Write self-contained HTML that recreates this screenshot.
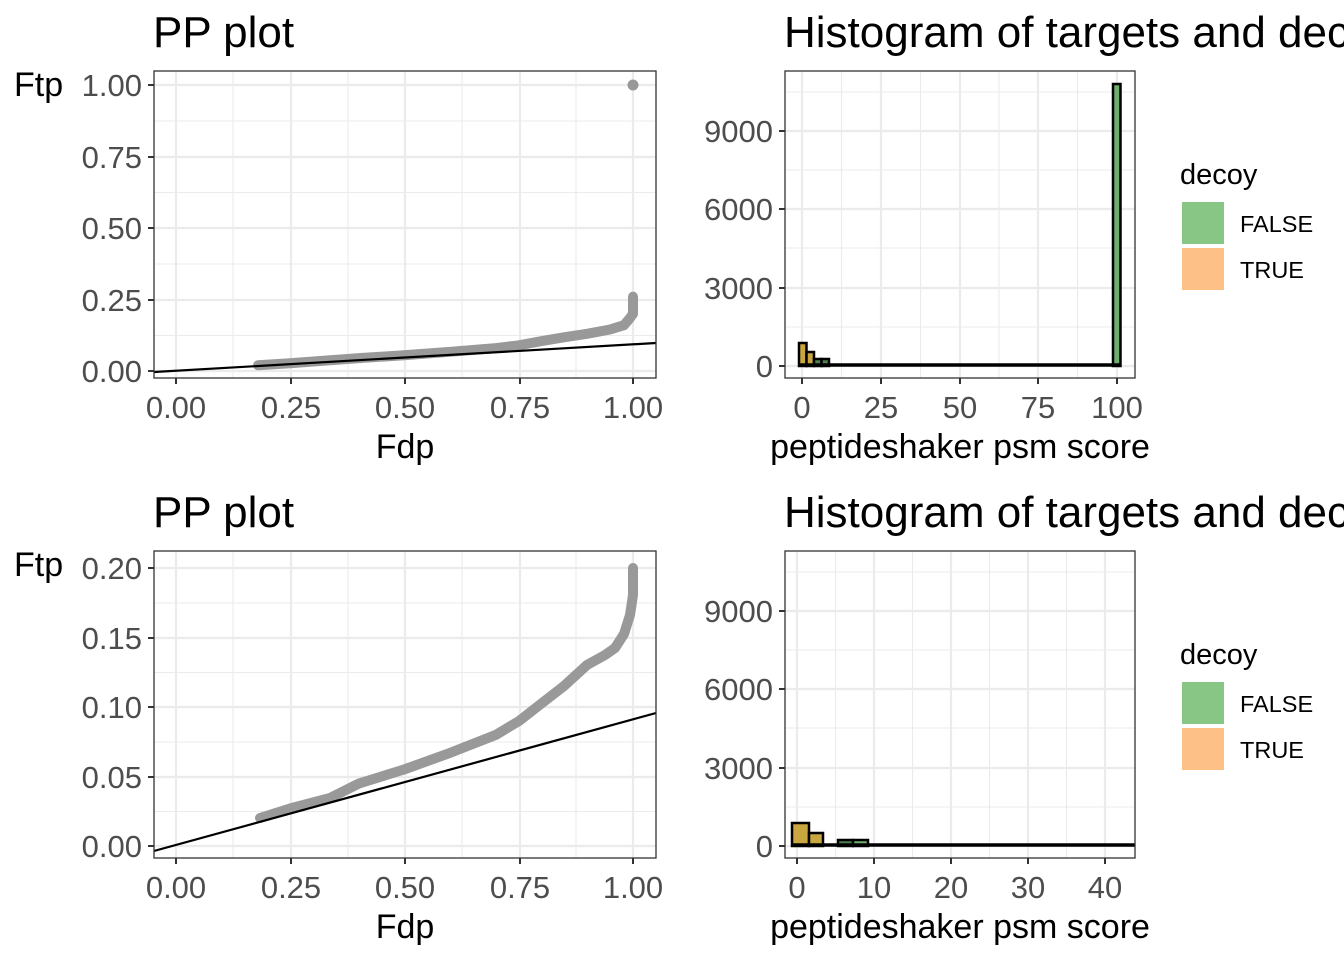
<!DOCTYPE html>
<html><head><meta charset="utf-8"><style>
html,body{margin:0;padding:0;background:#fff;}
svg{display:block;font-family:"Liberation Sans",Arial,sans-serif;}
.tk{fill:#4d4d4d;font-size:31px;}
.at{fill:#000;font-size:34px;}
.tt{fill:#000;font-size:44px;}
.mj{stroke:#ebebeb;stroke-width:2.2;}
.mn{stroke:#ebebeb;stroke-width:1.1;}
.tick{stroke:#333;stroke-width:2;}
</style></head><body>
<svg width="1344" height="960" viewBox="0 0 1344 960">
<defs>
<clipPath id="c1"><rect x="154" y="71" width="502" height="307"/></clipPath>
<clipPath id="c2"><rect x="154" y="551" width="502" height="307"/></clipPath>
<clipPath id="c4"><rect x="785" y="551" width="350" height="307"/></clipPath>
</defs>

<!-- ===== Top-left PP ===== -->
<text class="tt" x="153" y="47">PP plot</text>
<g>
<line class="mn" x1="154" y1="335.5" x2="656" y2="335.5"/><line class="mn" x1="154" y1="264" x2="656" y2="264"/><line class="mn" x1="154" y1="192.5" x2="656" y2="192.5"/><line class="mn" x1="154" y1="121" x2="656" y2="121"/>
<line class="mn" x1="233" y1="71" x2="233" y2="378"/><line class="mn" x1="348" y1="71" x2="348" y2="378"/><line class="mn" x1="462" y1="71" x2="462" y2="378"/><line class="mn" x1="576" y1="71" x2="576" y2="378"/>
<line class="mj" x1="154" y1="371" x2="656" y2="371"/><line class="mj" x1="154" y1="300" x2="656" y2="300"/><line class="mj" x1="154" y1="228" x2="656" y2="228"/><line class="mj" x1="154" y1="157" x2="656" y2="157"/><line class="mj" x1="154" y1="85" x2="656" y2="85"/>
<line class="mj" x1="176" y1="71" x2="176" y2="378"/><line class="mj" x1="291" y1="71" x2="291" y2="378"/><line class="mj" x1="405" y1="71" x2="405" y2="378"/><line class="mj" x1="520" y1="71" x2="520" y2="378"/><line class="mj" x1="633" y1="71" x2="633" y2="378"/>
<g clip-path="url(#c1)">
<polyline fill="none" stroke="#999" stroke-width="10" stroke-linecap="round" stroke-linejoin="round" points="258,365.3 290,363.3 359,358.1 404,355.3 450,351.8 496,348.1 519,345.3 542,341 564,337.3 587,333.8 610,329.5 624,325.2 630,318 633,313.8 633,296.6"/>
<circle cx="633" cy="85" r="5.5" fill="#999"/>
<line x1="154" y1="372" x2="656" y2="343" stroke="#000" stroke-width="2.2"/>
</g>
<rect x="154" y="71" width="502" height="307" fill="none" stroke="#333" stroke-width="1.3"/>
<line class="tick" x1="148" y1="371" x2="154" y2="371"/><line class="tick" x1="148" y1="300" x2="154" y2="300"/><line class="tick" x1="148" y1="228" x2="154" y2="228"/><line class="tick" x1="148" y1="157" x2="154" y2="157"/><line class="tick" x1="148" y1="85" x2="154" y2="85"/>
<line class="tick" x1="176" y1="378" x2="176" y2="384"/><line class="tick" x1="291" y1="378" x2="291" y2="384"/><line class="tick" x1="405" y1="378" x2="405" y2="384"/><line class="tick" x1="520" y1="378" x2="520" y2="384"/><line class="tick" x1="633" y1="378" x2="633" y2="384"/>
<g class="tk" text-anchor="end"><text x="142" y="382">0.00</text><text x="142" y="311">0.25</text><text x="142" y="239">0.50</text><text x="142" y="168">0.75</text><text x="142" y="96">1.00</text></g>
<g class="tk" text-anchor="middle"><text x="176" y="418">0.00</text><text x="291" y="418">0.25</text><text x="405" y="418">0.50</text><text x="520" y="418">0.75</text><text x="633" y="418">1.00</text></g>
<text class="at" x="405" y="458" text-anchor="middle">Fdp</text>
<text class="at" x="14" y="96">Ftp</text>
</g>

<!-- ===== Top-right histogram ===== -->
<text class="tt" x="784" y="47">Histogram of targets and decoys</text>
<g>
<line class="mn" x1="785" y1="327" x2="1135" y2="327"/><line class="mn" x1="785" y1="248" x2="1135" y2="248"/><line class="mn" x1="785" y1="170" x2="1135" y2="170"/><line class="mn" x1="785" y1="92" x2="1135" y2="92"/>
<line class="mn" x1="841.5" y1="71" x2="841.5" y2="378"/><line class="mn" x1="920.5" y1="71" x2="920.5" y2="378"/><line class="mn" x1="999" y1="71" x2="999" y2="378"/><line class="mn" x1="1077.5" y1="71" x2="1077.5" y2="378"/>
<line class="mj" x1="785" y1="366" x2="1135" y2="366"/><line class="mj" x1="785" y1="288" x2="1135" y2="288"/><line class="mj" x1="785" y1="209" x2="1135" y2="209"/><line class="mj" x1="785" y1="131" x2="1135" y2="131"/>
<line class="mj" x1="802" y1="71" x2="802" y2="378"/><line class="mj" x1="881" y1="71" x2="881" y2="378"/><line class="mj" x1="960" y1="71" x2="960" y2="378"/><line class="mj" x1="1038" y1="71" x2="1038" y2="378"/><line class="mj" x1="1117" y1="71" x2="1117" y2="378"/>
<g stroke="#000" stroke-width="2.5">
<rect x="799" y="343" width="7.5" height="23" fill="#c9a640"/>
<rect x="806.5" y="352" width="7.5" height="14" fill="#c9a640"/>
<rect x="814" y="359" width="7.5" height="7" fill="#4f7f4f"/>
<rect x="821.5" y="359" width="7.5" height="7" fill="#4f7f4f"/>
<rect x="1113" y="84" width="7.5" height="282" fill="#6fae6f"/>
</g>
<line x1="799" y1="365" x2="1120" y2="365" stroke="#000" stroke-width="3.5"/>
<rect x="785" y="71" width="350" height="307" fill="none" stroke="#333" stroke-width="1.3"/>
<line class="tick" x1="779" y1="366" x2="785" y2="366"/><line class="tick" x1="779" y1="288" x2="785" y2="288"/><line class="tick" x1="779" y1="209" x2="785" y2="209"/><line class="tick" x1="779" y1="131" x2="785" y2="131"/>
<line class="tick" x1="802" y1="378" x2="802" y2="384"/><line class="tick" x1="881" y1="378" x2="881" y2="384"/><line class="tick" x1="960" y1="378" x2="960" y2="384"/><line class="tick" x1="1038" y1="378" x2="1038" y2="384"/><line class="tick" x1="1117" y1="378" x2="1117" y2="384"/>
<g class="tk" text-anchor="end"><text x="773" y="377">0</text><text x="773" y="299">3000</text><text x="773" y="220">6000</text><text x="773" y="142">9000</text></g>
<g class="tk" text-anchor="middle"><text x="802" y="418">0</text><text x="881" y="418">25</text><text x="960" y="418">50</text><text x="1038" y="418">75</text><text x="1117" y="418">100</text></g>
<text class="at" x="960" y="458" text-anchor="middle">peptideshaker psm score</text>
<text x="1180" y="184" font-size="29" fill="#000">decoy</text>
<rect x="1182" y="202" width="42" height="42" fill="#88c686"/>
<rect x="1182" y="248" width="42" height="42" fill="#fdc086"/>
<text x="1240" y="232" font-size="23.5" fill="#000">FALSE</text>
<text x="1240" y="278" font-size="23.5" fill="#000">TRUE</text>
</g>

<!-- ===== Bottom-left PP ===== -->
<text class="tt" x="153" y="527">PP plot</text>
<g>
<line class="mn" x1="154" y1="811.5" x2="656" y2="811.5"/><line class="mn" x1="154" y1="742" x2="656" y2="742"/><line class="mn" x1="154" y1="672.5" x2="656" y2="672.5"/><line class="mn" x1="154" y1="603" x2="656" y2="603"/>
<line class="mn" x1="233" y1="551" x2="233" y2="858"/><line class="mn" x1="348" y1="551" x2="348" y2="858"/><line class="mn" x1="462" y1="551" x2="462" y2="858"/><line class="mn" x1="576" y1="551" x2="576" y2="858"/>
<line class="mj" x1="154" y1="846" x2="656" y2="846"/><line class="mj" x1="154" y1="777" x2="656" y2="777"/><line class="mj" x1="154" y1="707" x2="656" y2="707"/><line class="mj" x1="154" y1="638" x2="656" y2="638"/><line class="mj" x1="154" y1="568" x2="656" y2="568"/>
<line class="mj" x1="176" y1="551" x2="176" y2="858"/><line class="mj" x1="291" y1="551" x2="291" y2="858"/><line class="mj" x1="405" y1="551" x2="405" y2="858"/><line class="mj" x1="520" y1="551" x2="520" y2="858"/><line class="mj" x1="633" y1="551" x2="633" y2="858"/>
<g clip-path="url(#c2)">
<polyline fill="none" stroke="#999" stroke-width="10" stroke-linecap="round" stroke-linejoin="round" points="260,818 290,808.5 330,798 359,783.5 404,769.5 450,752.9 496,734.8 519,721 542,703 564,686 587,665 605,655 615,648 624,634 630,615 633,595 633,568"/>
<line x1="154" y1="851" x2="656" y2="713" stroke="#000" stroke-width="2.2"/>
</g>
<rect x="154" y="551" width="502" height="307" fill="none" stroke="#333" stroke-width="1.3"/>
<line class="tick" x1="148" y1="846" x2="154" y2="846"/><line class="tick" x1="148" y1="777" x2="154" y2="777"/><line class="tick" x1="148" y1="707" x2="154" y2="707"/><line class="tick" x1="148" y1="638" x2="154" y2="638"/><line class="tick" x1="148" y1="568" x2="154" y2="568"/>
<line class="tick" x1="176" y1="858" x2="176" y2="864"/><line class="tick" x1="291" y1="858" x2="291" y2="864"/><line class="tick" x1="405" y1="858" x2="405" y2="864"/><line class="tick" x1="520" y1="858" x2="520" y2="864"/><line class="tick" x1="633" y1="858" x2="633" y2="864"/>
<g class="tk" text-anchor="end"><text x="142" y="857">0.00</text><text x="142" y="788">0.05</text><text x="142" y="718">0.10</text><text x="142" y="649">0.15</text><text x="142" y="579">0.20</text></g>
<g class="tk" text-anchor="middle"><text x="176" y="898">0.00</text><text x="291" y="898">0.25</text><text x="405" y="898">0.50</text><text x="520" y="898">0.75</text><text x="633" y="898">1.00</text></g>
<text class="at" x="405" y="938" text-anchor="middle">Fdp</text>
<text class="at" x="14" y="576">Ftp</text>
</g>

<!-- ===== Bottom-right histogram ===== -->
<text class="tt" x="784" y="527">Histogram of targets and decoys</text>
<g>
<line class="mn" x1="785" y1="807" x2="1135" y2="807"/><line class="mn" x1="785" y1="728" x2="1135" y2="728"/><line class="mn" x1="785" y1="650" x2="1135" y2="650"/><line class="mn" x1="785" y1="572" x2="1135" y2="572"/>
<line class="mn" x1="835.5" y1="551" x2="835.5" y2="858"/><line class="mn" x1="912.5" y1="551" x2="912.5" y2="858"/><line class="mn" x1="989.5" y1="551" x2="989.5" y2="858"/><line class="mn" x1="1066.5" y1="551" x2="1066.5" y2="858"/>
<line class="mj" x1="785" y1="846" x2="1135" y2="846"/><line class="mj" x1="785" y1="768" x2="1135" y2="768"/><line class="mj" x1="785" y1="689" x2="1135" y2="689"/><line class="mj" x1="785" y1="611" x2="1135" y2="611"/>
<line class="mj" x1="797" y1="551" x2="797" y2="858"/><line class="mj" x1="874" y1="551" x2="874" y2="858"/><line class="mj" x1="951" y1="551" x2="951" y2="858"/><line class="mj" x1="1028" y1="551" x2="1028" y2="858"/><line class="mj" x1="1105" y1="551" x2="1105" y2="858"/>
<g clip-path="url(#c4)" stroke="#000" stroke-width="2.5">
<rect x="792" y="823" width="17" height="23" fill="#c9a640"/>
<rect x="809" y="833" width="14" height="13" fill="#c9a640"/>
<rect x="838" y="840" width="15" height="6" fill="#4f7f4f"/>
<rect x="853" y="840" width="15" height="6" fill="#6fae6f"/>
<line x1="792" y1="845" x2="1135" y2="845" stroke-width="3.5"/>
</g>
<rect x="785" y="551" width="350" height="307" fill="none" stroke="#333" stroke-width="1.3"/>
<line class="tick" x1="779" y1="846" x2="785" y2="846"/><line class="tick" x1="779" y1="768" x2="785" y2="768"/><line class="tick" x1="779" y1="689" x2="785" y2="689"/><line class="tick" x1="779" y1="611" x2="785" y2="611"/>
<line class="tick" x1="797" y1="858" x2="797" y2="864"/><line class="tick" x1="874" y1="858" x2="874" y2="864"/><line class="tick" x1="951" y1="858" x2="951" y2="864"/><line class="tick" x1="1028" y1="858" x2="1028" y2="864"/><line class="tick" x1="1105" y1="858" x2="1105" y2="864"/>
<g class="tk" text-anchor="end"><text x="773" y="857">0</text><text x="773" y="779">3000</text><text x="773" y="700">6000</text><text x="773" y="622">9000</text></g>
<g class="tk" text-anchor="middle"><text x="797" y="898">0</text><text x="874" y="898">10</text><text x="951" y="898">20</text><text x="1028" y="898">30</text><text x="1105" y="898">40</text></g>
<text class="at" x="960" y="938" text-anchor="middle">peptideshaker psm score</text>
<text x="1180" y="664" font-size="29" fill="#000">decoy</text>
<rect x="1182" y="682" width="42" height="42" fill="#88c686"/>
<rect x="1182" y="728" width="42" height="42" fill="#fdc086"/>
<text x="1240" y="712" font-size="23.5" fill="#000">FALSE</text>
<text x="1240" y="758" font-size="23.5" fill="#000">TRUE</text>
</g>
</svg>
</body></html>
